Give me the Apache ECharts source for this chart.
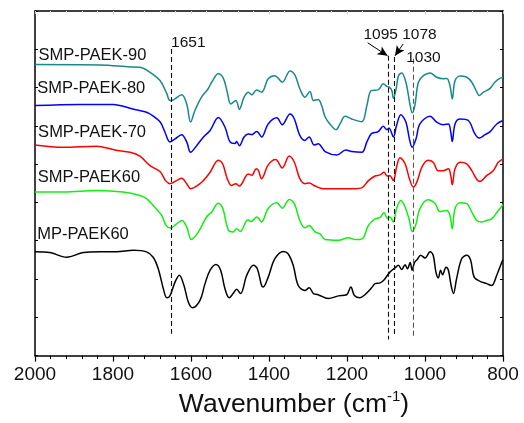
<!DOCTYPE html>
<html>
<head>
<meta charset="utf-8">
<script src="https://cdn.jsdelivr.net/npm/echarts@6/dist/echarts.min.js"></script>
<style>html,body{margin:0;padding:0;background:#fff;}#c{width:524px;height:423px;}</style>
</head>
<body>
<div id="c"></div>
<script>
// x: wavenumber (cm-1), y: offset intensity (a.u.)
const seriesNames = ['SMP-PAEK-90', 'SMP-PAEK-80', 'SMP-PAEK-70', 'SMP-PAEK60', 'MP-PAEK60'];
const xTicks = [2000, 1800, 1600, 1400, 1200, 1000, 800];
const peakLabels = ['1651', '1095', '1078', '1030'];
const peakPositions = [1651, 1095, 1078, 1030];

const paek90 = [[2000,7.60],[1833,7.59],[1756,7.54],[1731,7.53],[1705,7.40],[1679,7.18],[1662,6.84],[1654,6.66],[1645,6.68],[1624,6.81],[1611,6.57],[1601,6.10],[1590,6.40],[1573,6.75],[1556,6.97],[1547,7.14],[1530,7.36],[1517,7.24],[1507,6.88],[1498,6.57],[1485,6.66],[1476,6.43],[1464,6.75],[1453,6.88],[1444,6.81],[1432,6.94],[1419,6.88],[1402,7.23],[1385,7.31],[1376,7.24],[1366,7.14],[1346,7.43],[1333,7.31],[1321,6.97],[1308,6.75],[1295,6.90],[1286,6.66],[1274,6.69],[1265,6.53],[1256,6.23],[1244,6.05],[1228,5.90],[1218,6.05],[1205,6.25],[1188,6.18],[1162,6.11],[1149,6.53],[1138,6.92],[1120,6.94],[1107,7.10],[1098,7.03],[1092,7.01],[1085,6.92],[1081,6.72],[1074,6.97],[1068,7.31],[1060,7.38],[1049,7.14],[1038,6.53],[1033,6.34],[1026,6.53],[1017,7.14],[1004,7.31],[987,7.38],[970,7.27],[953,7.23],[944,7.24],[936,7.05],[930,6.70],[923,7.18],[910,7.30],[893,7.27],[880,7.14],[867,6.88],[861,6.79],[850,6.88],[833,6.98],[821,7.14],[808,7.24],[800,7.26]];

const paek80 = [[2000,6.53],[1885,6.56],[1800,6.56],[1749,6.44],[1718,6.37],[1705,6.31],[1679,6.10],[1667,5.84],[1654,5.58],[1641,5.66],[1624,5.77],[1611,5.58],[1601,5.31],[1585,5.49],[1568,5.71],[1551,5.88],[1530,6.22],[1513,5.97],[1500,5.58],[1487,5.54],[1483,5.59],[1476,5.48],[1464,5.71],[1453,5.79],[1444,5.77],[1432,5.85],[1427,5.82],[1419,5.71],[1402,6.05],[1380,6.21],[1366,6.03],[1346,6.31],[1335,6.18],[1321,5.75],[1308,5.62],[1297,5.71],[1284,5.50],[1274,5.53],[1256,5.33],[1226,5.24],[1203,5.37],[1188,5.33],[1162,5.31],[1149,5.58],[1138,5.79],[1120,5.85],[1107,5.99],[1098,5.90],[1092,5.94],[1081,5.71],[1073,6.01],[1062,6.29],[1049,6.10],[1040,5.66],[1033,5.44],[1023,5.66],[1013,6.05],[987,6.25],[970,6.10],[953,6.03],[940,6.05],[934,5.84],[930,5.59],[923,6.05],[910,6.18],[889,6.14],[872,5.79],[861,5.68],[846,5.77],[833,5.85],[816,6.05],[800,6.14]];

const paek70 = [[2000,5.50],[1927,5.44],[1842,5.47],[1795,5.37],[1756,5.31],[1731,5.21],[1705,4.96],[1679,4.80],[1665,4.57],[1654,4.49],[1637,4.57],[1624,4.63],[1611,4.49],[1601,4.36],[1577,4.49],[1568,4.57],[1551,4.79],[1530,5.10],[1519,5.01],[1507,4.62],[1496,4.44],[1485,4.49],[1476,4.43],[1453,4.74],[1444,4.71],[1433,4.88],[1427,4.83],[1419,4.62],[1402,4.98],[1383,5.12],[1366,4.90],[1348,5.21],[1335,5.05],[1321,4.62],[1308,4.49],[1297,4.51],[1282,4.43],[1261,4.36],[1222,4.36],[1179,4.36],[1162,4.38],[1145,4.57],[1128,4.69],[1115,4.72],[1105,4.79],[1097,4.69],[1090,4.70],[1081,4.57],[1073,4.92],[1064,5.17],[1051,5.01],[1040,4.62],[1030,4.40],[1021,4.53],[1008,4.92],[992,5.10],[979,5.05],[966,4.83],[953,4.83],[940,4.88],[934,4.70],[930,4.46],[923,4.88],[910,5.05],[893,5.01],[880,4.83],[867,4.60],[859,4.55],[842,4.70],[825,4.83],[812,5.05],[800,5.14]];

const paek60 = [[2000,4.27],[1927,4.27],[1842,4.31],[1774,4.27],[1731,4.18],[1714,4.10],[1697,3.92],[1675,3.66],[1664,3.40],[1653,3.33],[1637,3.44],[1623,3.53],[1611,3.36],[1599,3.03],[1581,3.23],[1560,3.62],[1547,3.75],[1530,3.98],[1519,3.86],[1504,3.27],[1492,3.23],[1483,3.31],[1474,3.24],[1454,3.55],[1445,3.50],[1432,3.62],[1427,3.59],[1419,3.49],[1402,3.84],[1380,3.99],[1366,3.85],[1348,4.08],[1335,3.97],[1321,3.53],[1308,3.34],[1297,3.40],[1282,3.23],[1269,3.18],[1256,3.03],[1222,3.01],[1196,3.08],[1179,3.03],[1161,3.05],[1145,3.40],[1128,3.57],[1115,3.61],[1105,3.74],[1097,3.59],[1090,3.62],[1081,3.49],[1073,3.84],[1062,4.05],[1051,3.88],[1040,3.53],[1033,3.24],[1023,3.44],[1013,3.84],[992,4.07],[974,3.97],[962,3.76],[944,3.79],[936,3.66],[930,3.31],[923,3.84],[910,3.99],[893,3.97],[880,3.75],[867,3.53],[855,3.49],[842,3.53],[829,3.57],[812,3.79],[800,3.94]];

const mpPaek60 = [[2000,2.71],[1962,2.69],[1919,2.57],[1876,2.69],[1833,2.71],[1791,2.71],[1748,2.75],[1714,2.71],[1697,2.57],[1684,2.27],[1671,1.75],[1662,1.51],[1654,1.56],[1641,1.92],[1630,2.10],[1618,1.83],[1607,1.40],[1596,1.25],[1577,1.44],[1564,1.88],[1551,2.23],[1536,2.38],[1524,2.23],[1513,1.75],[1502,1.51],[1492,1.62],[1483,1.73],[1473,1.62],[1457,2.10],[1440,2.36],[1430,2.27],[1419,1.83],[1415,1.79],[1402,2.05],[1385,2.53],[1363,2.72],[1351,2.66],[1338,2.36],[1325,1.83],[1308,1.70],[1297,1.77],[1286,1.62],[1274,1.59],[1248,1.49],[1222,1.56],[1201,1.59],[1190,1.79],[1181,1.57],[1167,1.51],[1154,1.59],[1137,1.77],[1128,1.88],[1115,1.90],[1104,1.99],[1090,2.18],[1077,2.29],[1068,2.36],[1060,2.25],[1051,2.37],[1045,2.27],[1038,2.43],[1033,2.23],[1027,2.43],[1020,2.51],[1011,2.62],[1000,2.55],[987,2.71],[979,2.62],[972,2.18],[966,2.03],[960,2.23],[955,2.11],[946,2.31],[940,2.23],[933,1.83],[927,1.62],[919,2.01],[906,2.53],[893,2.62],[883,2.49],[874,2.05],[859,1.94],[842,1.88],[829,1.83],[816,2.10],[803,2.44],[800,2.50]];

const curves = [paek90, paek80, paek70, paek60, mpPaek60];
const colors = ['#17898a', '#0000ff', '#ff0000', '#11ee11', '#000000'];
// label anchor: [wavenumber, level]
const nameAnchors = [[1991, 7.85], [1994, 6.99], [1992, 5.82], [1993, 4.64], [1994, 3.16]];
// peak line extents [top, bottom]
const peakLineTop = [8.01, 7.83, 7.80, 7.75];
const peakLineBottom = [0.57, 0.42, 0.49, 0.50];

const FONT = "Arial, 'Liberation Sans', sans-serif";
const chart = echarts.init(document.getElementById('c'), null, {renderer: 'canvas'});

const series = curves.map((d, i) => ({
  name: seriesNames[i],
  type: 'line',
  data: d,
  showSymbol: false,
  symbol: 'none',
  smooth: 0.35,
  lineStyle: {color: colors[i], width: 1.5},
  itemStyle: {color: colors[i]},
  animation: false,
  silent: true,
  markPoint: {
    symbol: 'circle', symbolSize: 0, silent: true, animation: false,
    label: {show: true, position: 'right', distance: 0, color: '#111', fontSize: 16.5, fontFamily: FONT},
    data: [{coord: nameAnchors[i], value: seriesNames[i], label: {formatter: seriesNames[i]}}]
  }
}));

// annotation series (dashed lines, arrows, peak numbers)
const dashed = {type: [5, 3], color: '#111', width: 1.1};
const mlData = peakPositions.map((p, i) => [
  {coord: [p, peakLineTop[i]], lineStyle: i === 3 ? {type: [5, 3], color: '#555', width: 1.1} : dashed},
  {coord: [p, peakLineBottom[i]]}
]);
mlData.push([
  {coord: [1147, 8.17], symbol: 'none', lineStyle: {type: 'solid', color: '#000', width: 1}},
  {coord: [1096, 7.83], symbol: 'arrow', symbolSize: [7, 10]}
]);
mlData.push([
  {coord: [1056, 8.14], symbol: 'none', lineStyle: {type: 'solid', color: '#000', width: 1}},
  {coord: [1077, 7.83], symbol: 'arrow', symbolSize: [7, 10]}
]);

series.push({
  type: 'line', data: [[1651, 8.18]], showSymbol: false, symbol: 'none',
  lineStyle: {opacity: 0}, silent: true, animation: false,
  markLine: {
    silent: true, animation: false, symbol: ['none', 'none'],
    label: {show: false},
    emphasis: {disabled: true},
    data: mlData
  },
  markPoint: {
    symbol: 'circle', symbolSize: 0, silent: true, animation: false,
    label: {show: true, color: '#111', fontSize: 15.5, fontFamily: FONT},
    data: [
      {coord: [1651, 8.18], label: {formatter: peakLabels[0], position: 'right', distance: 0}},
      {coord: [1064, 8.37], label: {formatter: peakLabels[1] + ' ' + peakLabels[2], position: 'inside'}},
      {coord: [1004, 7.77], label: {formatter: peakLabels[3], position: 'inside'}}
    ]
  }
});

const option = {
  backgroundColor: '#fff',
  textStyle: {fontFamily: FONT},
  animation: false,
  grid: {left: 35, right: 21, top: 11, bottom: 66, containLabel: false},
  xAxis: [{
    type: 'value', min: 800, max: 2000, interval: 200, inverse: true, position: 'bottom',
    axisLine: {show: true, onZero: false, lineStyle: {color: '#000', width: 1.5}},
    axisTick: {show: true, inside: false, length: 6, lineStyle: {color: '#000', width: 1.2}},
    minorTick: {show: true, splitNumber: 5, length: 3.5, lineStyle: {color: '#000', width: 1}},
    splitLine: {show: false},
    axisLabel: {color: '#111', fontSize: 19, margin: 10, fontFamily: FONT,
      formatter: v => xTicks.indexOf(v) >= 0 ? String(v) : ''},
    name: '{a|Wavenumber (cm}{s|-1}{a|)}',
    nameLocation: 'middle', nameGap: 28,
    nameTextStyle: {padding: [0, 0, 0, 50], rich: {
      a: {fontSize: 26.5, color: '#111', fontFamily: FONT, lineHeight: 30},
      s: {fontSize: 15, color: '#111', fontFamily: FONT, lineHeight: 15, verticalAlign: 'top'}
    }}
  }, {
    type: 'value', min: 800, max: 2000, interval: 200, inverse: true, position: 'top',
    axisLine: {show: true, onZero: false, lineStyle: {color: '#000', width: 1.5}},
    axisTick: {show: true, inside: true, length: 3, lineStyle: {color: '#ccc', width: 1}},
    minorTick: {show: true, splitNumber: 5, length: 2, lineStyle: {color: '#ddd', width: 1}},
    splitLine: {show: false}, axisLabel: {show: false}
  }],
  yAxis: [{
    type: 'value', min: 0, max: 9, interval: 1, position: 'left',
    axisLine: {show: true, onZero: false, lineStyle: {color: '#000', width: 1.5}},
    axisTick: {show: true, inside: true, length: 3, lineStyle: {color: '#000', width: 1}},
    splitLine: {show: false}, axisLabel: {show: false}
  }, {
    type: 'value', min: 0, max: 9, interval: 1, position: 'right',
    axisLine: {show: true, onZero: false, lineStyle: {color: '#000', width: 1.5}},
    axisTick: {show: true, inside: true, length: 3, lineStyle: {color: '#000', width: 1}},
    splitLine: {show: false}, axisLabel: {show: false}
  }],
  series: series
};
chart.setOption(option);
</script>
</body>
</html>
